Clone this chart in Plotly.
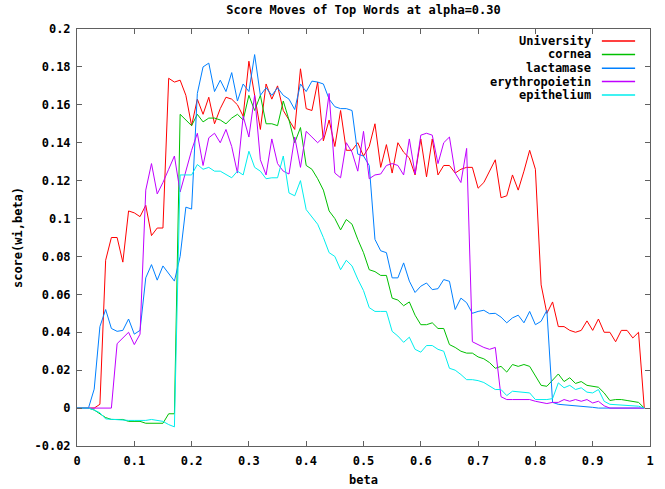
import plotly.graph_objects as go

beta = [round(i * 0.01, 2) for i in range(100)]

university = [
    0, 0, 0, 0, 0.002, 0.078, 0.090, 0.090, 0.077, 0.104,
    0.103, 0.101, 0.107, 0.091, 0.095, 0.095, 0.174, 0.172, 0.173, 0.165,
    0.149, 0.163, 0.155, 0.164, 0.150, 0.158, 0.164, 0.163, 0.160, 0.154,
    0.183, 0.165, 0.147, 0.171, 0.163, 0.170, 0.157, 0.152, 0.147, 0.179,
    0.158, 0.157, 0.172, 0.141, 0.152, 0.138, 0.157, 0.136, 0.136, 0.140,
    0.133, 0.138, 0.150, 0.127, 0.139, 0.124, 0.140, 0.135, 0.132, 0.123,
    0.142, 0.122, 0.142, 0.123, 0.128, 0.128, 0.124, 0.126, 0.127, 0.127,
    0.116, 0.119, 0.125, 0.131, 0.111, 0.112, 0.123, 0.115, 0.125, 0.136,
    0.126, 0.065, 0.050, 0.056, 0.043, 0.043, 0.041, 0.040, 0.041, 0.046,
    0.041, 0.047, 0.040, 0.040, 0.035, 0.041, 0.041, 0.037, 0.040, 0.000,
]

cornea = [
    0, 0, 0, -0.001, -0.003, -0.005, -0.006, -0.006, -0.006, -0.007,
    -0.007, -0.007, -0.008, -0.008, -0.008, -0.008, -0.003, -0.003, 0.155, 0.152,
    0.149, 0.155, 0.151, 0.153, 0.153, 0.152, 0.150, 0.153, 0.155, 0.152,
    0.165, 0.157, 0.165, 0.150, 0.150, 0.149, 0.162, 0.152, 0.140, 0.148,
    0.128, 0.126, 0.121, 0.115, 0.104, 0.100, 0.094, 0.0995, 0.097, 0.089,
    0.082, 0.073, 0.072, 0.070, 0.070, 0.058, 0.057, 0.054, 0.056, 0.049,
    0.044, 0.044, 0.045, 0.042, 0.042, 0.0335, 0.032, 0.030, 0.029, 0.029,
    0.027, 0.026, 0.024, 0.021, 0.022, 0.019, 0.023, 0.022, 0.023, 0.022,
    0.017, 0.012, 0.0115, 0.015, 0.018, 0.014, 0.016, 0.013, 0.014, 0.012,
    0.0115, 0.011, 0.008, 0.004, 0.0045, 0.0045, 0.004, 0.0036, 0.003, 0.0,
]

lactamase = [
    0, 0, 0, 0.010, 0.043, 0.052, 0.042, 0.0405, 0.041, 0.047,
    0.039, 0.041, 0.0687, 0.0757, 0.0675, 0.075, 0.071, 0.067, 0.080, 0.106,
    0.105, 0.166, 0.180, 0.182, 0.167, 0.173, 0.167, 0.177, 0.162, 0.171,
    0.167, 0.1865, 0.165, 0.169, 0.165, 0.169, 0.165, 0.163, 0.1575, 0.171,
    0.167, 0.1725, 0.172, 0.171, 0.163, 0.159, 0.158, 0.158, 0.157, 0.134,
    0.133, 0.128, 0.089, 0.083, 0.082, 0.0687, 0.0687, 0.0766, 0.067, 0.061,
    0.0643, 0.066, 0.0625, 0.063, 0.0678, 0.0669, 0.052, 0.058, 0.0556, 0.050,
    0.051, 0.0516, 0.0498, 0.050, 0.048, 0.045, 0.0476, 0.049, 0.045, 0.051,
    0.044, 0.0458, 0.0516, 0.003, 0.002, 0.0018, 0.0016, 0.0014, 0.0012, 0.0008,
    0.0004, 0, 0, 0, 0, 0, 0, 0, 0, 0,
]

erythropoietin = [
    0, 0, 0, 0, 0, 0, 0, 0.034, 0.037, 0.040,
    0.0335, 0.039, 0.115, 0.129, 0.113, 0.119, 0.126, 0.133, 0.114, 0.125,
    0.136, 0.145, 0.128, 0.1426, 0.145, 0.140, 0.147, 0.138, 0.124, 0.154,
    0.143, 0.165, 0.131, 0.123, 0.142, 0.129, 0.125, 0.1235, 0.143, 0.127,
    0.146, 0.143, 0.140, 0.143, 0.166, 0.124, 0.1215, 0.140, 0.135, 0.125,
    0.146, 0.121, 0.123, 0.1235, 0.128, 0.129, 0.128, 0.123, 0.142, 0.1235,
    0.144, 0.145, 0.144, 0.129, 0.140, 0.143, 0.124, 0.119, 0.137, 0.035,
    0.0335, 0.032, 0.031, 0.032, 0.006, 0.0045, 0.0045, 0.0045, 0.0045, 0.0045,
    0.0036, 0.003, 0.0024, 0.003, 0.003, 0.0045, 0.0036, 0.0045, 0.0036, 0.0045,
    0.0027, 0.0036, 0.0012, 0, 0, 0, 0, 0, 0, 0,
]

epithelium = [
    0, 0, 0, -0.001, -0.0025, -0.0057, -0.006, -0.006, -0.0065, -0.0065,
    -0.0065, -0.0065, -0.0065, -0.006, -0.0065, -0.007, -0.0087, -0.0099, 0.123, 0.123,
    0.123, 0.1285, 0.126, 0.127, 0.125, 0.125, 0.1233, 0.1215, 0.125, 0.123,
    0.1355, 0.127, 0.125, 0.121, 0.1215, 0.1215, 0.133, 0.1135, 0.112, 0.120,
    0.1047, 0.101, 0.097, 0.090, 0.082, 0.080, 0.073, 0.078, 0.075, 0.068,
    0.062, 0.053, 0.051, 0.051, 0.051, 0.0405, 0.038, 0.0347, 0.0374, 0.031,
    0.0295, 0.033, 0.033, 0.031, 0.030, 0.021, 0.020, 0.0177, 0.015, 0.015,
    0.0145, 0.0135, 0.0115, 0.0098, 0.0098, 0.0066, 0.0089, 0.0086, 0.0084, 0.008,
    0.0045, 0.0045, 0.0045, 0.005, 0.0133, 0.0107, 0.012, 0.0098, 0.0107, 0.0084,
    0.008, 0.0098, 0.0036, 0.002, 0.0018, 0.0018, 0.0015, 0.0012, 0.001, 0,
]

series_names = ["University", "cornea", "lactamase", "erythropoietin", "epithelium"]
series_values = [university, cornea, lactamase, erythropoietin, epithelium]
series_colors = ["#ff0000", "#00c000", "#0080ff", "#c000ff", "#00eeee"]

x_tick_vals = [0, 0.1, 0.2, 0.3, 0.4, 0.5, 0.6, 0.7, 0.8, 0.9, 1]
x_tick_text = ["0", "0.1", "0.2", "0.3", "0.4", "0.5", "0.6", "0.7", "0.8", "0.9", "1"]
y_tick_vals = [-0.02, 0, 0.02, 0.04, 0.06, 0.08, 0.1, 0.12, 0.14, 0.16, 0.18, 0.2]
y_tick_text = ["-0.02", "0", "0.02", "0.04", "0.06", "0.08", "0.1", "0.12", "0.14", "0.16", "0.18", "0.2"]

FONT = "DejaVu Sans Mono"
fig = go.Figure()
for name, vals, col in zip(series_names, series_values, series_colors):
    fig.add_trace(go.Scatter(x=beta, y=vals, mode="lines", name=name,
                             line=dict(color=col, width=1), showlegend=False))

# manual gnuplot-style key (text right aligned, sample to the right)
key_y = [0.971, 0.939, 0.906, 0.874, 0.842]
for name, col, ky in zip(series_names, series_colors, key_y):
    fig.add_annotation(x=0.900, y=ky, xref="paper", yref="paper", text=name,
                       showarrow=False, xanchor="right", yanchor="middle",
                       font=dict(family=FONT, size=12, color="#000000", weight="bold"))
    fig.add_shape(type="line", xref="paper", yref="paper", x0=0.916, x1=0.974,
                  y0=ky, y1=ky, line=dict(color=col, width=1.5))

axis_common = dict(showline=True, linecolor="#606060", linewidth=1, mirror="ticks",
                   ticks="inside", ticklen=5, tickcolor="#606060", showgrid=False,
                   zeroline=False, automargin=False,
                   tickfont=dict(family=FONT, size=12, color="#000000", weight="bold"))

fig.update_layout(
    width=665, height=489,
    margin=dict(l=77, r=15, t=29, b=43),
    paper_bgcolor="white", plot_bgcolor="white",
    title=dict(text="Score Moves of Top Words at alpha=0.30", x=0.5, xanchor="center",
               xref="paper", y=1 - 10 / 489, yref="container", yanchor="middle",
               automargin=False,
               font=dict(family=FONT, size=12, color="#000000", weight="bold")),
    xaxis=dict(range=[0, 1], tickvals=x_tick_vals, ticktext=x_tick_text,
               ticklabelstandoff=4,
               title=dict(text="beta", standoff=8,
                          font=dict(family=FONT, size=12, color="#000000", weight="bold")),
               **axis_common),
    yaxis=dict(range=[-0.02, 0.2], tickvals=y_tick_vals, ticktext=y_tick_text,
               ticklabelstandoff=3,
               title=dict(text="score(wi,beta)", standoff=9,
                          font=dict(family=FONT, size=12, color="#000000", weight="bold")),
               **axis_common),
)

fig.write_html("out.html", config={"displayModeBar": False},
               post_script="document.body.style.margin='0';")
